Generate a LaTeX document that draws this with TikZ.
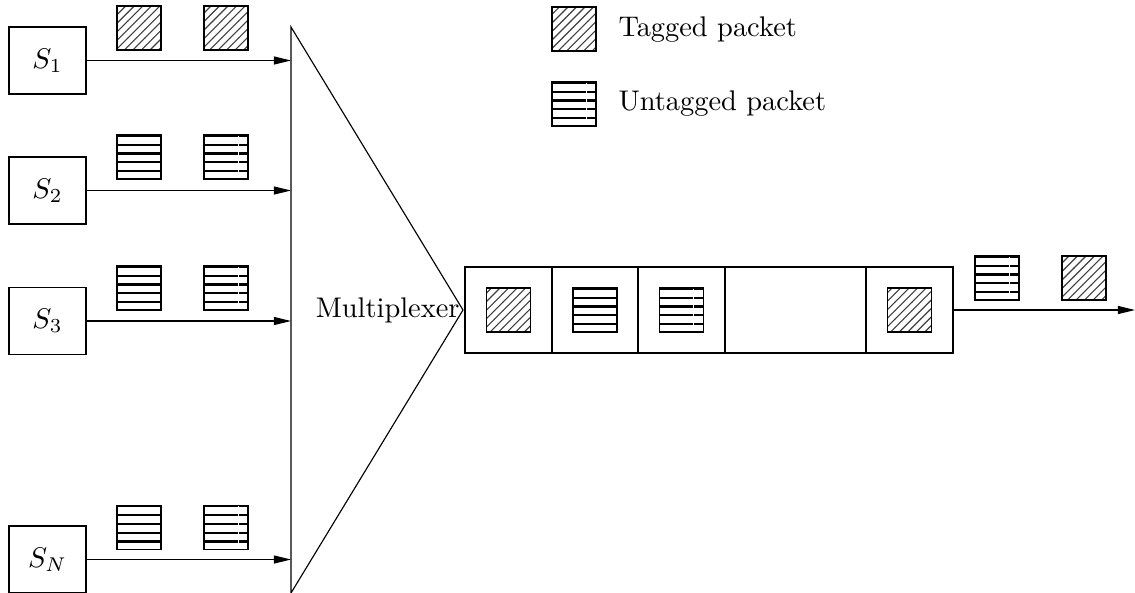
\documentclass[tikz,border=0pt]{standalone}
\usetikzlibrary{patterns,arrows.meta}
\tikzset{
  pkt/.style={draw, inner sep=0pt, minimum size=15.5pt, line width=0.4pt},
  tagged/.style={pkt, pattern=north east lines, pattern color=black!75},
  hlines/.style={path picture={
    \foreach \f in {0,...,4}
      \draw[line width=0.8pt] ([yshift=-\f*3.1pt-0.3pt]path picture bounding box.north west) -- ([yshift=-\f*3.1pt-0.3pt]path picture bounding box.north east);
  }},
  untagged/.style={pkt, hlines},
  untaggedb/.style={pkt, path picture={
    \foreach \f in {0,...,4}
      \draw[line width=0.8pt] ([yshift=-\f*3.1pt-0.3pt]path picture bounding box.north west) -- ([yshift=-\f*3.1pt-0.3pt]path picture bounding box.north east);
    \draw[white, line width=0.35pt] ([xshift=-3.4pt]path picture bounding box.north east) -- ([xshift=-3.4pt]path picture bounding box.south east);
  }},
  src/.style={draw, inner sep=0pt, minimum width=27.1pt, minimum height=23.6pt},
  cell/.style={draw, inner sep=0pt, minimum height=30.3pt},
  arr/.style={-{Triangle[length=6pt,width=2.8pt]}},
  lbl/.style={anchor=west, inner sep=0pt}
}
\begin{document}
\begin{tikzpicture}[x=0.352pt,y=-0.352pt]
\useasboundingbox (0,0) rectangle (1135,592);
% sources
\node[src] (s1) at (47.5,60.5) {$S_1$};
\node[src] (s2) at (47.5,190.5) {$S_2$};
\node[src] (s3) at (47.5,321) {$S_3$};
\node[src] (sn) at (47.5,559.5) {$S_N$};
% multiplexer
\coordinate (mtop) at (291,27);
\coordinate (mbot) at (291,593);
\coordinate (apex) at (463,310);
\draw (mtop) -- (mbot) -- (apex) -- cycle;
\node[anchor=east, inner sep=1pt] (mlabel) at (apex) {Multiplexer};
% input arrows
\draw[arr] (s1) -- (s1 -| mtop);
\draw[arr] (s2) -- (s2 -| mtop);
\draw[arr] (s3) -- (s3 -| mtop);
\draw[arr] (sn) -- (sn -| mtop);
% input packets
\node[tagged] (p11) at (139,28) {};
\node[tagged] (p12) at (226,28) {};
\node[untagged] (p21) at (139,157) {};
\node[untaggedb] (p22) at (226,157) {};
\node[untagged] (p31) at (139,288) {};
\node[untaggedb] (p32) at (226,288) {};
\node[untagged] (pn1) at (139,527.5) {};
\node[untaggedb] (pn2) at (226,527.5) {};
% queue
\node[cell, minimum width=30.6pt] (c1) at (508.5,310) {};
\node[cell, minimum width=30.3pt] (c2) at (595,310) {};
\node[cell, minimum width=30.6pt] (c3) at (681.5,310) {};
\node[cell, minimum width=49.6pt] (c4) at (795.5,310) {};
\node[cell, minimum width=30.6pt] (c5) at (909.5,310) {};
\node[tagged] (q1) at (c1) {};
\node[untagged] (q2) at (c2) {};
\node[untaggedb] (q3) at (c3) {};
\node[tagged] (q5) at (c5) {};
% output
\coordinate (out) at (1135,310);
\draw[arr] (c5.east) -- (out);
\node[untaggedb] (o1) at (997,278) {};
\node[tagged] (o2) at (1084,278) {};
% legend
\node[tagged] (lt) at (574,29) {};
\node[lbl] (ltt) at (618,30) {Tagged packet};
\node[untaggedb] (lu) at (574,104) {};
\node[lbl] (lut) at (618,104) {Untagged packet};
\end{tikzpicture}
\end{document}
